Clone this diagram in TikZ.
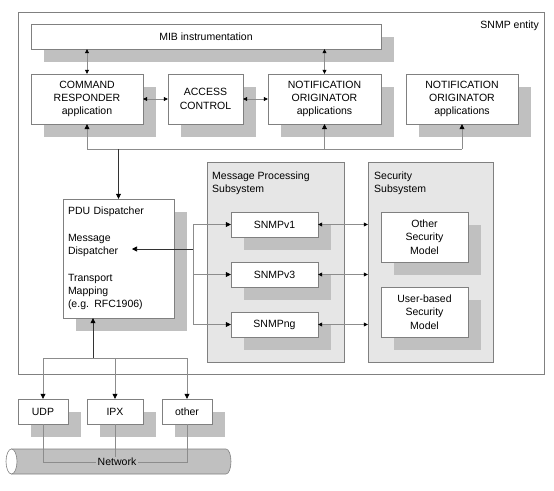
\documentclass[tikz,border=0pt]{standalone}
\usepackage{fontspec}
\setmainfont{Liberation Sans}
\usetikzlibrary{arrows.meta,shadows}
\definecolor{shd}{HTML}{C0C0C0}
\definecolor{subfill}{HTML}{E6E6E6}
\definecolor{edge}{HTML}{808080}
\definecolor{wire}{HTML}{8C8C8C}
\definecolor{darkwire}{HTML}{333333}
\begin{document}
\begin{tikzpicture}[x=1pt,y=-1pt,
  font=\fontsize{10.5}{13.3}\selectfont,
  box/.style={draw=edge, fill=white, inner sep=0pt, align=center,
    drop shadow={shadow xshift=12.5pt, shadow yshift=-13pt, fill=shd, opacity=1, draw=none}},
  subbox/.style={draw=edge, fill=subfill, inner sep=0pt},
  lbl/.style={inner sep=0pt, align=left, anchor=north west},
  wireline/.style={draw=wire, line width=0.6pt},
  darkline/.style={draw=darkwire, line width=0.7pt},
  bigtip/.style={-{Triangle[length=5pt,width=5pt,color=black]}},
  bothtip/.style={wireline, {Triangle[length=4pt,width=4pt,color=black]}-{Triangle[length=4pt,width=4pt,color=black]}}
]
\useasboundingbox (0,0) rectangle (554,490);

% outer entity
\node[draw=edge, inner sep=0pt, minimum width=526, minimum height=362] (entity) at (281,193) {};
\node[inner sep=0pt, anchor=base east] (entlbl) at (539,28.6) {SNMP entity};

% subsystems
\node[subbox, minimum width=137, minimum height=200] (mps) at (275.5,262) {};
\node[lbl] (mpslbl) at (212,171.2) {Message Processing\\Subsystem};
\node[subbox, minimum width=125, minimum height=200] (ss) at (430.5,262) {};
\node[lbl] (sslbl) at (374,171.2) {Security\\Subsystem};

% top row
\node[box, minimum width=350, minimum height=25] (mib) at (206,36.5) {MIB instrumentation};
\node[box, minimum width=112, minimum height=50] (cr) at (87,99) {COMMAND\\RESPONDER\\application};
\node[box, minimum width=75, minimum height=50] (ac) at (205.5,99) {ACCESS\\CONTROL};
\node[box, minimum width=113, minimum height=50] (no1) at (324.5,99) {NOTIFICATION\\ORIGINATOR\\applications};
\node[box, minimum width=112, minimum height=50] (no2) at (462,99) {NOTIFICATION\\ORIGINATOR\\applications};

% PDU dispatcher
\node[box, text width=101pt, inner xsep=5pt, align=left, minimum height=119] (pdu) at (118.5,258.5)
  {PDU Dispatcher\\[13.3pt]Message\\Dispatcher\\[13.3pt]Transport\\Mapping\\(e.g. RFC1906)};

% message processing models
\node[box, minimum width=87, minimum height=25] (v1) at (274.5,224.5) {SNMPv1};
\node[box, minimum width=87, minimum height=25] (v3) at (274.5,274.5) {SNMPv3};
\node[box, minimum width=87, minimum height=25] (ng) at (274.5,324.5) {SNMPng};

% security models
\node[box, minimum width=87, minimum height=50] (osm) at (424.5,237) {Other\\Security\\Model};
\node[box, minimum width=87, minimum height=50] (usm) at (424.5,312) {User-based\\Security\\Model};

% transports
\node[box, minimum width=50, minimum height=25] (udp) at (43,411.5) {UDP};
\node[box, minimum width=56, minimum height=25] (ipx) at (115,411.5) {IPX};
\node[box, minimum width=50, minimum height=25] (oth) at (187,411.5) {other};

% network cylinder
\filldraw[draw=edge, fill=shd, line width=0.6pt] (11.5,449) -- (226,449)
  arc[start angle=-90, end angle=90, x radius=5, y radius=12.5] -- (11.5,474) -- cycle;
\filldraw[draw=edge, fill=white, line width=0.6pt] (11.5,461.5) ellipse [x radius=5.5, y radius=12.5];

% coordinates
\coordinate (bus) at (119,149);
\coordinate (mdtip) at (132,249);
\coordinate (split) at (193,249);
\coordinate (tbus) at (93,358);
\coordinate (netline) at (115,462);

% MIB connections
\draw[bothtip] (cr.north) -- (cr.north |- mib.south);
\draw[bothtip] (no1.north) -- (no1.north |- mib.south);
\draw[bothtip] (cr.east) -- (ac.west);
\draw[bothtip] (ac.east) -- (no1.west);

% application bus
\draw[wireline] (cr.south |- bus) -- (no2.south |- bus);
\draw[wireline, bigtip] (cr.south |- bus) -- (cr.south);
\draw[wireline, bigtip] (no1.south |- bus) -- (no1.south);
\draw[wireline, bigtip] (no2.south |- bus) -- (no2.south);
\draw[darkline, bigtip] (pdu.north |- bus) -- (pdu.north);

% message dispatcher to models
\draw[darkline, bigtip] (split) -- (mdtip);
\draw[wireline] (v1.west -| split) -- (ng.west -| split);
\draw[wireline, bigtip] (v1.west -| split) -- (v1.west);
\draw[wireline, bigtip] (v3.west -| split) -- (v3.west);
\draw[wireline, bigtip] (ng.west -| split) -- (ng.west);

% models to security subsystem
\draw[bothtip] (v1.east) -- (v1.east -| ss.west);
\draw[bothtip] (v3.east) -- (v3.east -| ss.west);
\draw[bothtip] (ng.east) -- (ng.east -| ss.west);

% transport mapping
\draw[darkline, bigtip] (tbus) -- (tbus |- pdu.south);
\draw[wireline] (udp.north |- tbus) -- (oth.north |- tbus);
\draw[wireline, bigtip] (udp.north |- tbus) -- (udp.north);
\draw[wireline, bigtip] (ipx.north |- tbus) -- (ipx.north);
\draw[wireline, bigtip] (oth.north |- tbus) -- (oth.north);

% network wiring
\draw[wireline] (udp.south) -- (udp.south |- netline) -- (oth.south |- netline) -- (oth.south);
\draw[wireline] (ipx.south) -- (ipx.south |- netline);
\node[fill=shd, inner sep=1.5pt] (net) at (117,462) {Network};
\end{tikzpicture}
\end{document}
